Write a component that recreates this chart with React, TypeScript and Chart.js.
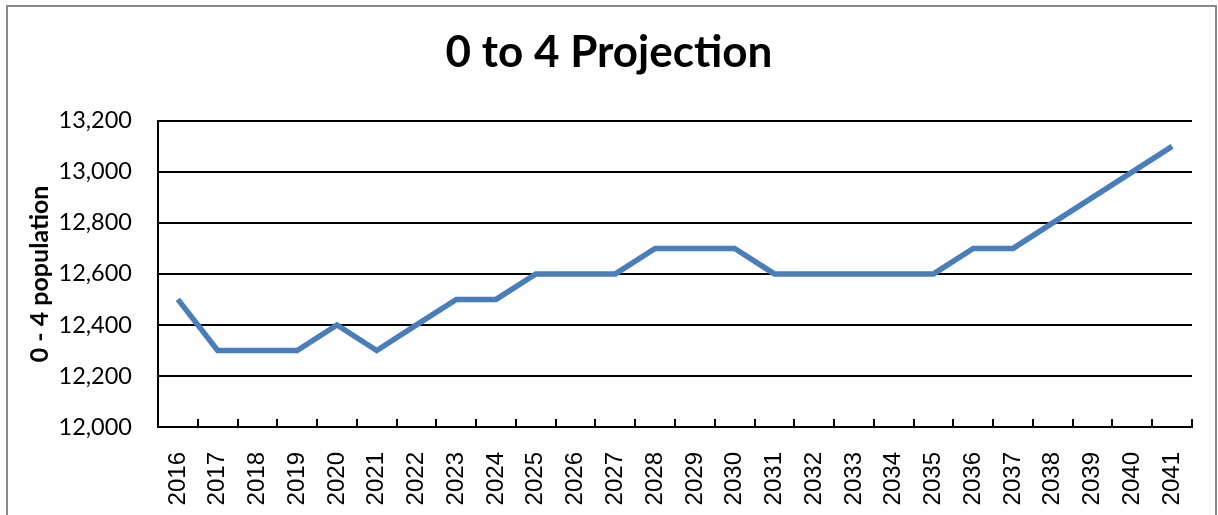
import { useEffect, useRef } from 'react';
import { Chart, registerables } from 'chart.js';

Chart.register(...registerables);

const years = [
  '2016', '2017', '2018', '2019', '2020', '2021', '2022', '2023', '2024',
  '2025', '2026', '2027', '2028', '2029', '2030', '2031', '2032', '2033',
  '2034', '2035', '2036', '2037', '2038', '2039', '2040', '2041',
];

const population = [
  12500, 12300, 12300, 12300, 12400, 12300, 12400, 12500, 12500,
  12600, 12600, 12600, 12700, 12700, 12700, 12600, 12600, 12600,
  12600, 12600, 12700, 12700, 12800, 12900, 13000, 13100,
];

const yMin = 12000;
const yMax = 13200;
const yStep = 200;

const innerTicks = {
  id: 'innerTicks',
  afterDatasetsDraw(chart: any) {
    const xs = chart.scales.x;
    const area = chart.chartArea;
    const ctx = chart.ctx;
    const n = years.length;
    const step = xs.getPixelForValue(1) - xs.getPixelForValue(0);
    ctx.save();
    ctx.strokeStyle = '#000';
    ctx.lineWidth = 2;
    for (let i = 1; i <= n; i++) {
      const x = Math.round(xs.getPixelForValue(i - 1) + step / 2);
      ctx.beginPath();
      ctx.moveTo(x, area.bottom - 8);
      ctx.lineTo(x, area.bottom);
      ctx.stroke();
    }
    ctx.restore();
  },
};

export default function App() {
  const ref = useRef<HTMLCanvasElement>(null);

  useEffect(() => {
    document.body.style.margin = '0';
    const chart = new Chart(ref.current as HTMLCanvasElement, {
      type: 'line',
      data: {
        labels: years,
        datasets: [
          {
            data: population,
            borderColor: '#4A7EBB',
            borderWidth: 5.5,
            pointRadius: 0,
            pointHoverRadius: 0,
            tension: 0,
            fill: false,
          },
        ],
      },
      options: {
        responsive: false,
        animation: false,
        layout: { padding: { left: 26, right: 26, top: 0, bottom: 0 } },
        plugins: {
          legend: { display: false },
          tooltip: { enabled: false },
          title: {
            display: true,
            text: '0 to 4 Projection',
            color: '#000',
            font: { family: 'Lato', size: 44, weight: 'bold' },
            padding: { top: 26, bottom: 42 },
          },
        },
        scales: {
          x: {
            offset: true,
            grid: { display: false, drawTicks: false },
            border: { display: true, color: '#000', width: 2 },
            ticks: {
              maxRotation: 90,
              minRotation: 90,
              autoSkip: false,
              color: '#000',
              font: { family: 'Liberation Sans', size: 24 },
              padding: 25,
            },
            afterFit: (s: any) => {
              s.height = 88;
              s.paddingLeft = 0;
              s.paddingRight = 0;
            },
          },
          y: {
            min: yMin,
            max: yMax,
            ticks: {
              stepSize: yStep,
              color: '#000',
              font: { family: 'Lato', size: 23.5 },
              padding: 26,
              callback: (v: any) => Number(v).toLocaleString('en-US'),
            },
            grid: { color: '#000', lineWidth: 2, drawTicks: false },
            border: { display: true, color: '#000', width: 2 },
            title: {
              display: true,
              text: '0 - 4 population',
              color: '#000',
              font: { family: 'Lato', size: 25, weight: 'bold' },
              padding: { top: -1, bottom: 0 },
            },
            afterFit: (s: any) => {
              s.width = 132;
            },
          },
        },
      },
      plugins: [innerTicks],
    });
    return () => chart.destroy();
  }, []);

  return (
    <div style={{ position: 'relative', width: 1218, height: 515, overflow: 'hidden', background: '#fff' }}>
      <canvas ref={ref} width={1218} height={515} style={{ position: 'absolute', left: 0, top: 0 }} />
      <div
        style={{
          position: 'absolute',
          left: 6,
          top: 5,
          width: 1211,
          height: 540,
          boxSizing: 'border-box',
          border: '2px solid #8a8a8a',
          pointerEvents: 'none',
        }}
      />
    </div>
  );
}
